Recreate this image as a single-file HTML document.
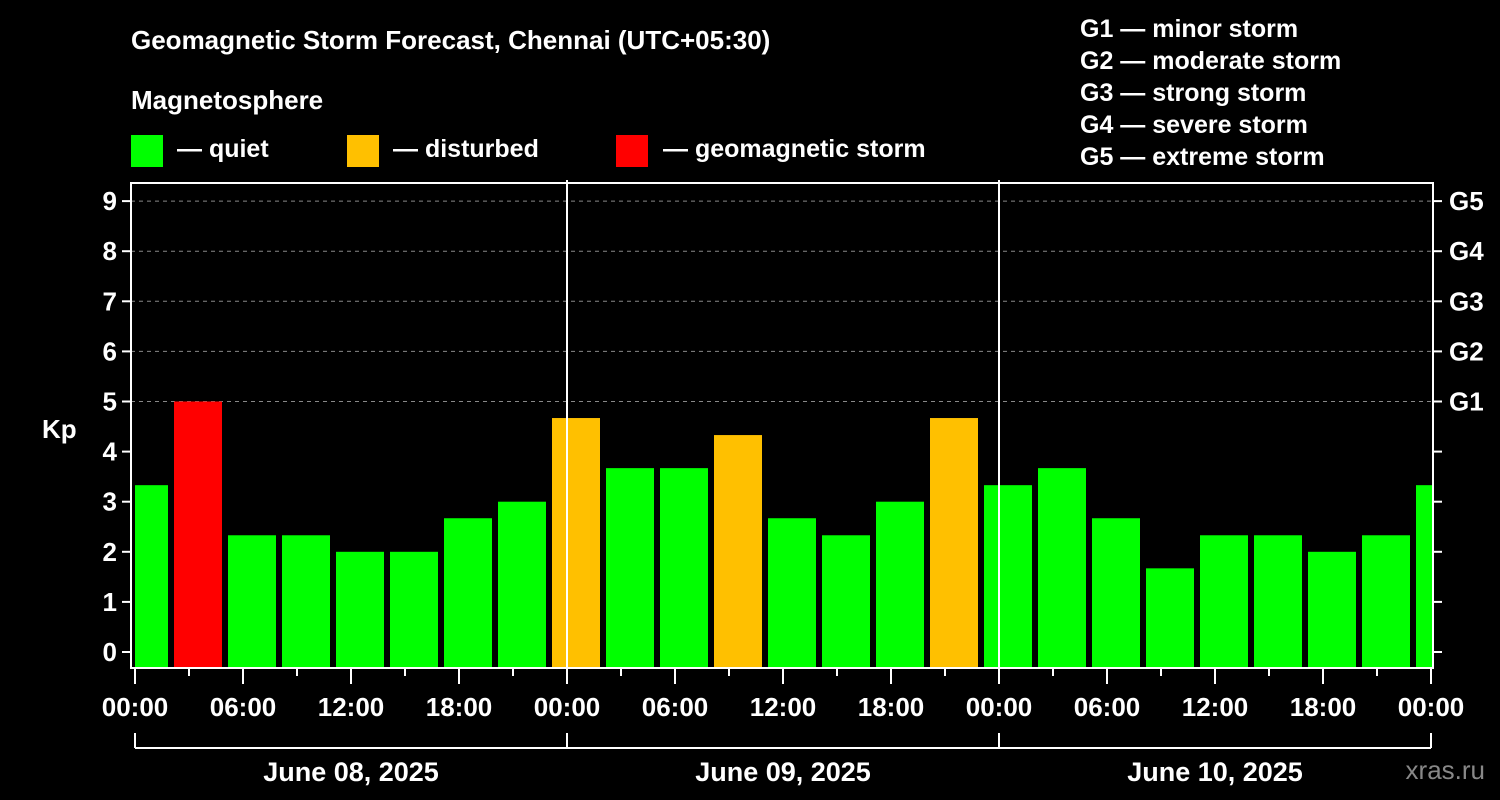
<!DOCTYPE html>
<html><head><meta charset="utf-8">
<style>
html,body{margin:0;padding:0;background:#000;}
svg{display:block;font-family:"Liberation Sans",Arial,sans-serif;font-weight:bold;}
</style></head>
<body>
<svg id="chart" width="1500" height="800" viewBox="0 0 1500 800">
<rect width="1500" height="800" fill="#000"/>
<text x="131" y="49" fill="#fff" font-size="26">Geomagnetic Storm Forecast, Chennai (UTC+05:30)</text>
<text x="131" y="109" fill="#fff" font-size="26">Magnetosphere</text>
<g><rect x="131" y="135" width="32" height="32" fill="#00ff00"/><text x="177" y="157" fill="#fff" font-size="25">— quiet</text></g>
<g><rect x="347" y="135" width="32" height="32" fill="#ffc000"/><text x="393" y="157" fill="#fff" font-size="25">— disturbed</text></g>
<g><rect x="616" y="135" width="32" height="32" fill="#ff0000"/><text x="663" y="157" fill="#fff" font-size="25">— geomagnetic storm</text></g>
<g fill="#fff" font-size="25">
<text x="1080" y="37">G1 — minor storm</text>
<text x="1080" y="69">G2 — moderate storm</text>
<text x="1080" y="101">G3 — strong storm</text>
<text x="1080" y="133">G4 — severe storm</text>
<text x="1080" y="165">G5 — extreme storm</text>
</g>
<text x="42" y="438" fill="#fff" font-size="26">Kp</text>
<text x="1485" y="779" fill="#888" font-size="26" text-anchor="end" font-weight="normal">xras.ru</text>
<g id="plot"></g>
</svg>
<script>
const kpValues=[3.33,5,2.33,2.33,2,2,2.67,3,4.67,3.67,3.67,4.33,2.67,2.33,3,4.67,3.33,3.67,2.67,1.67,2.33,2.33,2,2.33,3.33];
const yTicks=[0,1,2,3,4,5,6,7,8,9];
const gLabels=["G1","G2","G3","G4","G5"];
const gLevels=[5,6,7,8,9];
const xTickLabels=["00:00","06:00","12:00","18:00","00:00","06:00","12:00","18:00","00:00","06:00","12:00","18:00","00:00"];
const dayLabels=["June 08, 2025","June 09, 2025","June 10, 2025"];

const NS="http://www.w3.org/2000/svg";
const plot=document.getElementById('plot');
const L=131,R=1433,T=183,B=668,X0=135,PXH=18;
const y=v=>652-50.1*v;
const x=h=>X0+PXH*h;
function mk(tag,attrs,parent){const e=document.createElementNS(NS,tag);for(const k in attrs)e.setAttribute(k,attrs[k]);(parent||plot).appendChild(e);return e;}

// grid
gLevels.forEach(v=>{
  const g=mk('line',{x1:L,x2:R,y1:y(v),y2:y(v),stroke:'#888','stroke-dasharray':'4,4','stroke-width':1});
  
  
});
// bars
const clip=mk('clipPath',{id:'pc'});mk('rect',{x:L+4,y:T,width:R-L-4,height:B-T},clip);
const bars=mk('g',{'clip-path':'url(#pc)'});


kpValues.forEach((v,i)=>{
  const c=0.5+3*i;
  const col=v>=5?'#ff0000':(v>=4?'#ffc000':'#00ff00');
  const r=mk('rect',{x:x(c)-24,width:48,y:y(v),height:B-y(v),fill:col},bars);
  
  
});
// day divider lines
[24,48].forEach(h=>{
  const l=mk('line',{x1:x(h),x2:x(h),y1:180,y2:B,stroke:'#fff','stroke-width':2});
  
  
});
// frame
const f=mk('rect',{x:L,y:T,width:R-L,height:B-T,fill:'none',stroke:'#fff','stroke-width':2});


// y ticks
yTicks.forEach(v=>{
  mk('line',{x1:L-9,x2:L,y1:y(v),y2:y(v),stroke:'#fff','stroke-width':2});
  mk('line',{x1:R,x2:R+9,y1:y(v),y2:y(v),stroke:'#fff','stroke-width':2});
  const t=mk('text',{x:L-14,y:y(v)+9,fill:'#fff','font-size':26,'text-anchor':'end'});
  t.textContent=v;
  
  
});
gLabels.forEach((g,i)=>{
  const t=mk('text',{x:R+16,y:y(gLevels[i])+9,fill:'#fff','font-size':26});
  t.textContent=g;
  
  
});
// x ticks
for(let h=0;h<=72;h+=3){
  mk('line',{x1:x(h),x2:x(h),y1:B,y2:B+(h%6===0?16:8),stroke:'#fff','stroke-width':2});
}
xTickLabels.forEach((s,i)=>{
  const t=mk('text',{x:x(i*6),y:716,fill:'#fff','font-size':26,'text-anchor':'middle'});
  t.textContent=s;
  
  
});
// date bracket
mk('line',{x1:x(0),x2:x(72),y1:748,y2:748,stroke:'#fff','stroke-width':2});
[0,24,48,72].forEach(h=>mk('line',{x1:x(h),x2:x(h),y1:733,y2:748,stroke:'#fff','stroke-width':2}));
dayLabels.forEach((s,i)=>{
  const t=mk('text',{x:x(12+24*i),y:781,fill:'#fff','font-size':27,'text-anchor':'middle'});
  t.textContent=s;
  
  
});
</script>
</body></html>
